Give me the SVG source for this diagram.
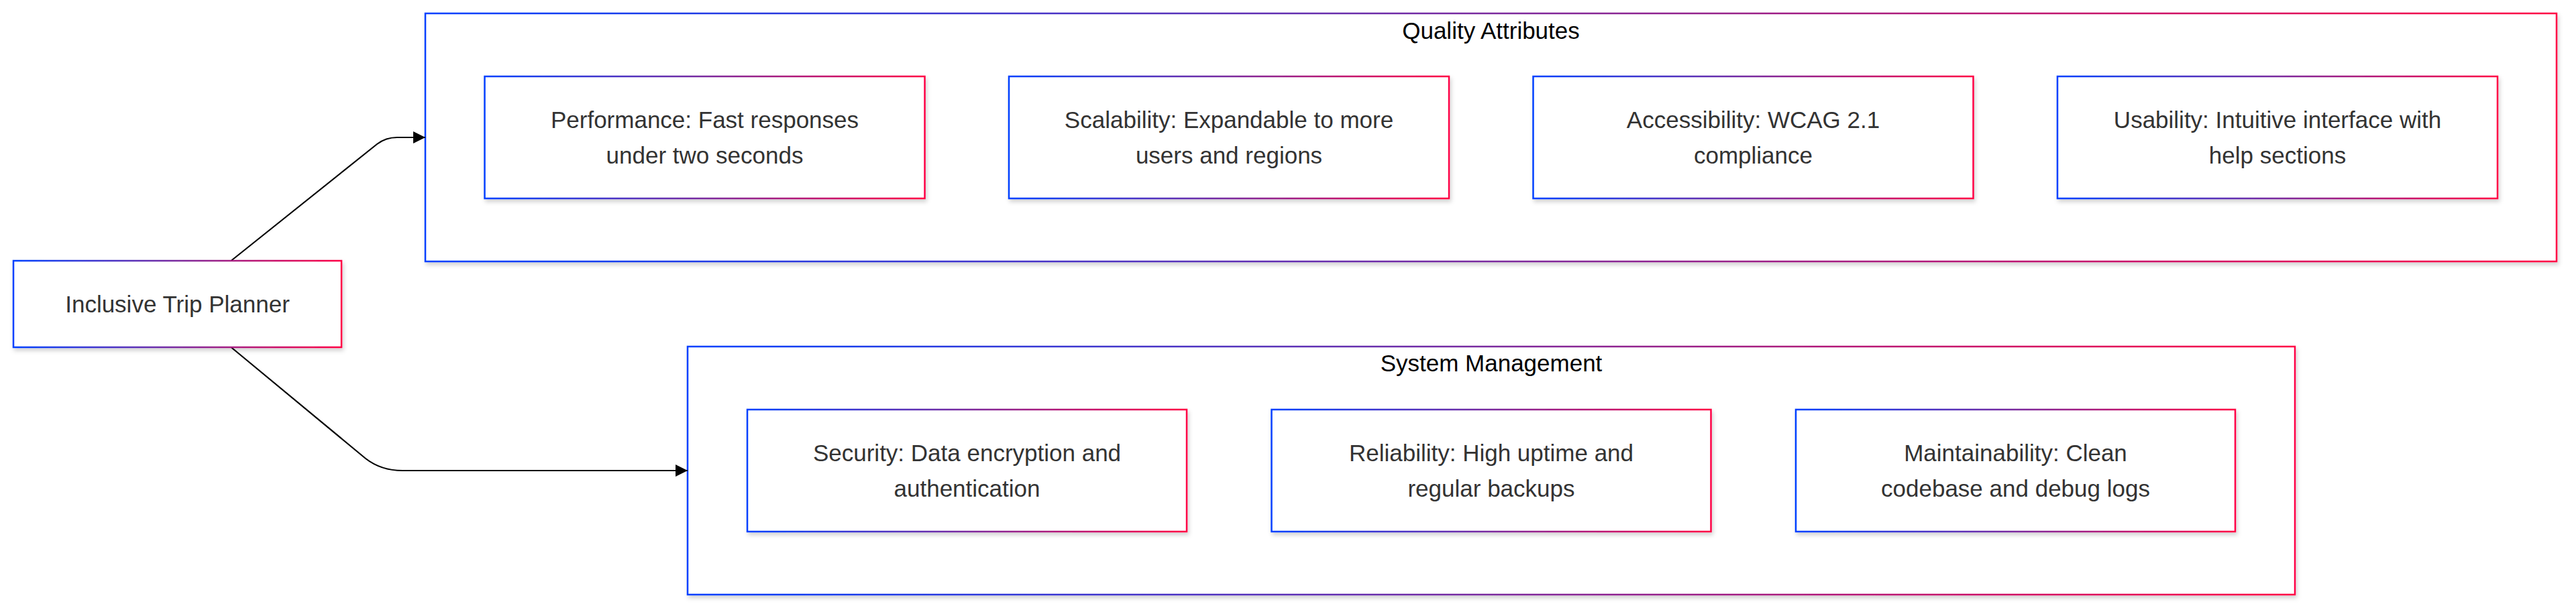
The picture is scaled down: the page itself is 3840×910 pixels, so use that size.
<svg xmlns="http://www.w3.org/2000/svg" width="3840" height="910" viewBox="0 0 3840 910">
<defs>
<linearGradient id="grad" x1="0" y1="0" x2="1" y2="0">
<stop offset="0" stop-color="#0040ff"/>
<stop offset="0.5" stop-color="#7a2a9e"/>
<stop offset="1" stop-color="#ff0044"/>
</linearGradient>
<filter id="shadow" x="-5%" y="-10%" width="110%" height="130%">
<feDropShadow dx="2" dy="4" stdDeviation="3" flood-color="#000" flood-opacity="0.18"/>
</filter>
<marker id="arrow" viewBox="0 0 10 10" refX="10" refY="5" markerWidth="9" markerHeight="10" markerUnits="userSpaceOnUse" orient="auto">
<path d="M0,0 L10,5 L0,10 z" fill="#000"/>
</marker>
<marker id="arrowL" viewBox="0 0 10 10" refX="10" refY="5" markerWidth="18" markerHeight="20" markerUnits="userSpaceOnUse" orient="auto">
<path d="M0,0 L10,5 L0,10 z" fill="#000"/>
</marker>
</defs>
<style>
.box{fill:#fff;stroke:url(#grad);stroke-width:2.5;filter:url(#shadow)}
.txt{font-family:"Liberation Sans",Arial,sans-serif;font-size:35px;fill:#333;text-anchor:middle}
.title{font-family:"Liberation Sans",Arial,sans-serif;font-size:35px;fill:#000;text-anchor:middle}
.edge{fill:none;stroke:#000;stroke-width:2.2}
</style>
<rect width="3840" height="910" fill="#fff"/>

<g id="cluster-quality">
<rect class="box" x="634" y="20" width="3177" height="370"/>
<text class="title" x="2222.5" y="58">Quality Attributes</text>
</g>
<g id="cluster-system">
<rect class="box" x="1025" y="517" width="2396" height="370"/>
<text class="title" x="2223" y="554">System Management</text>
</g>

<g id="connectors">
<path class="edge" d="M344.5,389 L562,215 Q575,205 592,205 L634,205" marker-end="url(#arrowL)"/>
<path class="edge" d="M344.5,518 L545,684 Q568,702 600,702 L1025,702" marker-end="url(#arrowL)"/>
</g>

<g id="node-planner">
<rect class="box" x="20" y="389" width="489" height="129"/>
<text class="txt" x="264.5" y="466">Inclusive Trip Planner</text>
</g>

<g id="node-performance">
<rect class="box" x="722.5" y="114" width="656" height="182"/>
<text class="txt" x="1050.5" y="191">Performance: Fast responses</text>
<text class="txt" x="1050.5" y="244">under two seconds</text>
</g>
<g id="node-scalability">
<rect class="box" x="1504" y="114" width="656" height="182"/>
<text class="txt" x="1832" y="191">Scalability: Expandable to more</text>
<text class="txt" x="1832" y="244">users and regions</text>
</g>
<g id="node-accessibility">
<rect class="box" x="2285.5" y="114" width="656" height="182"/>
<text class="txt" x="2613.5" y="191">Accessibility: WCAG 2.1</text>
<text class="txt" x="2613.5" y="244">compliance</text>
</g>
<g id="node-usability">
<rect class="box" x="3067" y="114" width="656" height="182"/>
<text class="txt" x="3395" y="191">Usability: Intuitive interface with</text>
<text class="txt" x="3395" y="244">help sections</text>
</g>

<g id="node-security">
<rect class="box" x="1114" y="611" width="655" height="182"/>
<text class="txt" x="1441.5" y="688">Security: Data encryption and</text>
<text class="txt" x="1441.5" y="741">authentication</text>
</g>
<g id="node-reliability">
<rect class="box" x="1895.5" y="611" width="655" height="182"/>
<text class="txt" x="2223" y="688">Reliability: High uptime and</text>
<text class="txt" x="2223" y="741">regular backups</text>
</g>
<g id="node-maintainability">
<rect class="box" x="2677" y="611" width="655" height="182"/>
<text class="txt" x="3004.5" y="688">Maintainability: Clean</text>
<text class="txt" x="3004.5" y="741">codebase and debug logs</text>
</g>
</svg>
